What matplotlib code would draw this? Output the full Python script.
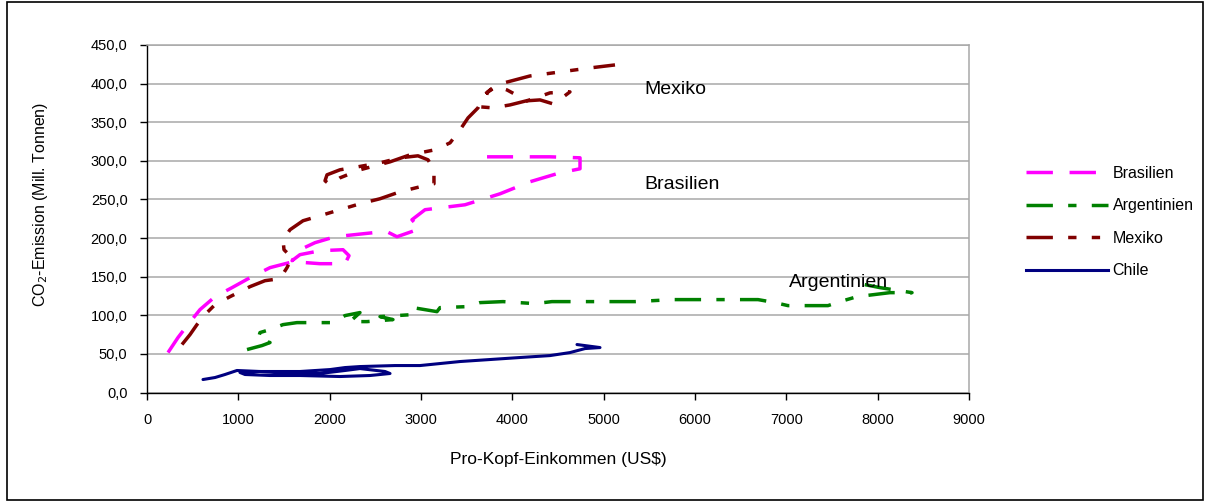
import numpy as np
import matplotlib.pyplot as plt
from matplotlib.ticker import FuncFormatter, MultipleLocator
from matplotlib.lines import Line2D
from matplotlib.patches import Rectangle

plt.rcParams['font.family'] = ['Liberation Sans', 'DejaVu Sans']
plt.rcParams['lines.scale_dashes'] = False

# Pro-Kopf-Einkommen (US$) / CO2-Emission (Mill. Tonnen)
bra_x = [230, 339, 449, 580, 745, 931, 1128, 1347, 1599, 1894, 2168, 2212, 2146, 1894,
         1675, 1588, 1675, 1839, 2058, 2474, 2606, 2737, 2989, 2901, 3044, 3482, 3865,
         4193, 4522, 4741, 4741, 4412, 3723]
bra_y = [51.7, 71.1, 88.0, 107.3, 124.1, 135.8, 148.7, 161.7, 169.4, 166.8, 166.8, 177.2,
         184.9, 183.6, 178.5, 170.7, 184.9, 194.0, 201.7, 206.9, 209.5, 201.7, 212.1, 223.7,
         236.7, 243.1, 257.3, 272.9, 284.5, 289.7, 303.9, 305.2, 305.2]

arg_x = [1095, 1259, 1347, 1215, 1237, 1347, 1489, 1642, 2037, 2168, 2332, 2223, 2409,
         2693, 2551, 2912, 2912, 3175, 3208, 3504, 3646, 3898, 4248, 4434, 5124, 5343,
         5759, 6000, 6690, 6876, 7018, 7456, 7588, 7774, 8135, 8376, 8026, 7697]
arg_y = [55.6, 60.8, 64.7, 68.5, 77.6, 81.5, 87.9, 90.5, 90.5, 99.6, 103.5, 91.8, 91.8,
         94.4, 98.3, 100.9, 109.9, 104.7, 109.9, 111.2, 116.4, 117.7, 115.1, 117.7, 117.7,
         117.7, 120.3, 120.3, 120.3, 116.4, 112.5, 112.5, 117.7, 124.1, 129.3, 129.3,
         135.8, 143.5]

mex_x = [383, 471, 547, 635, 745, 909, 1128, 1292, 1456, 1533, 1588, 1500, 1489, 1566,
         1708, 1894, 2113, 2332, 2551, 2770, 2989, 3142, 3142, 3077, 2967, 2770, 2551,
         2310, 2113, 1971, 1949, 2004, 2113, 2332, 2661, 2880, 3153, 3318, 3427, 3515,
         3624, 3690, 3810, 3942, 4062, 4139, 4303, 4445, 4544, 4631, 4412, 4193, 3974,
         3788, 3646, 3734, 3865, 4193, 4522, 4850, 5124]
mex_y = [62.1, 75.0, 87.9, 100.9, 113.8, 124.1, 137.1, 144.8, 147.4, 161.7, 174.6, 184.9,
         197.9, 210.8, 222.4, 228.9, 236.7, 244.4, 250.9, 259.9, 266.4, 270.3, 288.4,
         301.3, 306.5, 303.9, 297.4, 292.3, 288.4, 281.9, 274.2, 269.0, 278.0, 288.4,
         298.7, 307.8, 314.3, 323.3, 340.1, 355.6, 368.6, 385.4, 397.0, 391.8, 384.1,
         377.6, 378.9, 373.8, 381.5, 389.3, 388.0, 378.9, 372.4, 368.6, 369.9, 389.3,
         399.6, 409.9, 415.1, 420.3, 424.2]

chi_x = [613, 745, 854, 985, 1237, 1566, 1894, 2168, 2332, 2606, 2661, 2442, 2113, 1675,
         1347, 1073, 1018, 1237, 1675, 2004, 2168, 2332, 2715, 2989, 3208, 3427, 3756,
         4084, 4412, 4631, 4796, 4960, 4708]
chi_y = [16.8, 19.4, 23.3, 28.5, 27.2, 24.6, 24.6, 28.5, 31.0, 27.2, 24.6, 22.0, 20.7,
         22.0, 22.0, 23.3, 25.9, 27.2, 27.2, 29.7, 32.3, 33.6, 34.9, 34.9, 37.5, 40.1,
         42.7, 45.3, 47.8, 51.7, 56.9, 58.2, 62.1]

labels = ['Brasilien', 'Argentinien', 'Mexiko', 'Chile']
colors = ['#FF00FF', '#008000', '#800000', '#000080']
styles = [(0, (19, 12)), (0, (19, 11, 6, 11)), (0, (19, 11, 6, 11, 6, 11)), '-']

fig = plt.figure(figsize=(12.05, 5.01), dpi=100)
ax = fig.add_axes([147 / 1205, 1 - 392.5 / 501, 822 / 1205, 347.5 / 501])

series = [(bra_x, bra_y), (arg_x, arg_y), (mex_x, mex_y), (chi_x, chi_y)]
for (xs, ys), lab, col, ls in zip(series, labels, colors, styles):
    ax.plot(xs, ys, color=col, linestyle=ls, linewidth=2.5 if ls != '-' else 2.2,
            label=lab, solid_capstyle='round', dash_capstyle='butt')

ax.set_xlim(0, 9000)
ax.set_ylim(0, 450)
ax.xaxis.set_major_locator(MultipleLocator(1000))
ax.yaxis.set_major_locator(MultipleLocator(50))
ax.yaxis.set_major_formatter(FuncFormatter(lambda v, p: f'{v:.1f}'.replace('.', ',')))
ax.grid(axis='y', color='#a8a8a8', linewidth=1.1)
ax.set_axisbelow(True)

for s in ['top', 'right']:
    ax.spines[s].set_color('#a8a8a8')
    ax.spines[s].set_linewidth(1.1)
for s in ['left', 'bottom']:
    ax.spines[s].set_color('black')
    ax.spines[s].set_linewidth(1.0)

ax.tick_params(axis='both', direction='out', length=5, width=1, labelsize=10.5)
ax.tick_params(axis='x', pad=10)
ax.tick_params(axis='y', pad=9)

ax.set_xlabel('Pro-Kopf-Einkommen (US\\$)', fontsize=12.5, labelpad=18)
ax.set_ylabel('CO$_2$-Emission (Mill. Tonnen)', fontsize=11.5)
ax.yaxis.set_label_coords(-0.118, 0.54)

ax.text(5450, 392, 'Mexiko', fontsize=14, va='center', ha='left')
ax.text(5450, 269, 'Brasilien', fontsize=14, va='center', ha='left')
ax.text(7030, 142, 'Argentinien', fontsize=14, va='center', ha='left')

handles = [Line2D([], [], color=c, linestyle=ls, linewidth=2.5 if ls != '-' else 2.2)
           for c, ls in zip(colors, styles)]
fig.legend(handles, labels, loc='center left', bbox_to_anchor=(1012 / 1205, 1 - 222 / 501),
           frameon=False, fontsize=11.5, handlelength=5.1, handletextpad=0.3,
           labelspacing=1.1)

fig.patches.append(Rectangle((7 / 1205, 1 / 501), 1196 / 1205, 498 / 501, transform=fig.transFigure,
                             fill=False, edgecolor='black', linewidth=1.2))

fig.savefig('out.png', dpi=100)
